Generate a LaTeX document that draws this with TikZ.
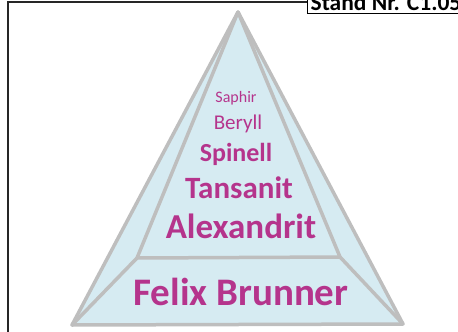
\documentclass[tikz,border=0pt]{standalone}
\usepackage{fontspec}
\setmainfont{Carlito}
\usepackage{tikz}

\definecolor{gemtext}{RGB}{181,52,140}
\definecolor{pyrline}{RGB}{190,190,190}
\definecolor{pyrfill}{RGB}{214,235,242}

\tikzset{
  pyredge/.style={pyrline,line width=3.5pt,line join=round},
  gem/.style={text=gemtext,inner sep=0pt},
}

\begin{document}
\begin{tikzpicture}[x=1pt,y=-1pt]
    \useasboundingbox (0,0) rectangle (458,332);
    \clip (0,0) rectangle (458,332);
    \draw[line width=2pt,black!85] (8,2) rectangle (490,360);

    \coordinate (apex) at (238,12);
    \coordinate (bl) at (72,325);
    \coordinate (br) at (403,324);
    \coordinate (il) at (137,258);
    \coordinate (ir) at (340,257);

    \fill[pyrfill] (apex) -- (bl) -- (br) -- cycle;
    \draw[pyredge] (apex) -- (il) -- (ir) -- cycle;
    \draw[pyredge] (il) -- (bl);
    \draw[pyredge] (ir) -- (br);
    \draw[pyredge] (apex) -- (bl) -- (br) -- cycle;

    \node[gem,font=\fontsize{16}{16}\selectfont] (saphir) at (236,98) {Saphir};
    \node[gem,font=\fontsize{21}{21}\selectfont] (beryll) at (238,124) {Beryll};
    \node[gem,font=\fontsize{26}{26}\selectfont\bfseries] (spinell) at (236,154) {Spinell};
    \node[gem,font=\fontsize{31}{31}\selectfont\bfseries] (tansanit) at (239,188) {Tansanit};
    \node[gem,font=\fontsize{35}{35}\selectfont\bfseries] (alex) at (241,226) {Alexandrit};
    \node[gem,font=\fontsize{39}{39}\selectfont\bfseries] (felix) at (241,292) {Felix Brunner};

    \node[draw,line width=1.3pt,fill=white,anchor=south west,inner sep=3pt,
          font=\fontsize{23.5}{23.5}\selectfont\bfseries] (stand) at (307,14) {Stand Nr. C1.05};
\end{tikzpicture}
\end{document}
